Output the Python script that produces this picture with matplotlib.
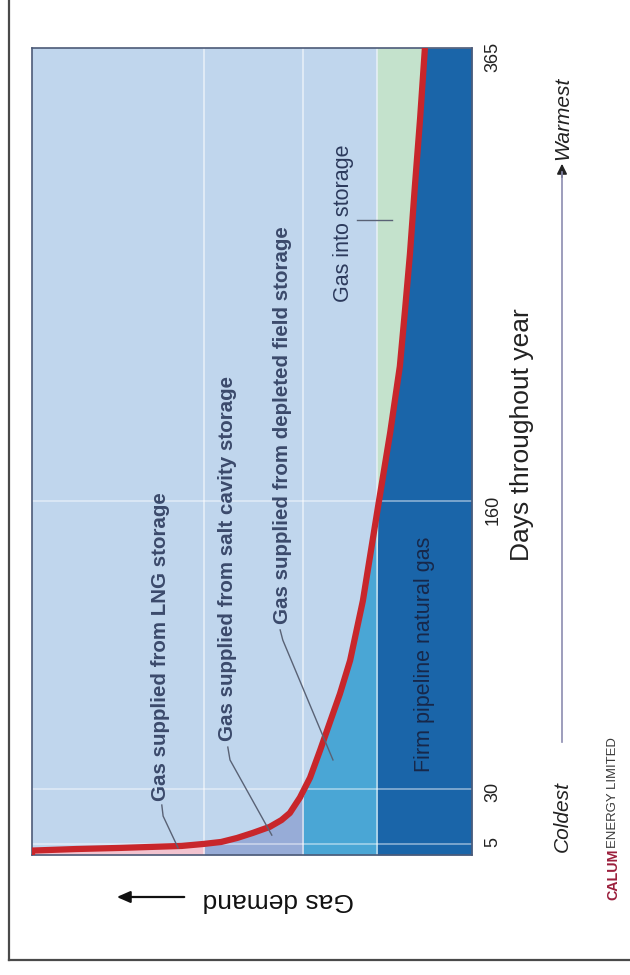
import numpy as np
import matplotlib
matplotlib.use("Agg")
import matplotlib.pyplot as plt
from matplotlib import font_manager
from matplotlib.lines import Line2D
from matplotlib.patches import FancyArrowPatch

# ---------------- data ----------------
# days of the year (sorted coldest -> warmest) and gas demand (arbitrary units, 100 = peak)
days = [0, 2.0, 2.7, 3.2, 4.1, 5.0, 5.9, 7.7, 10, 12.7, 15.8, 19, 26, 35, 47.5, 60, 73, 88,
        115, 157, 191, 221, 247, 272, 302, 333, 365]
demand = [100, 100, 90, 80, 66, 61, 57, 53.4, 49.8, 46, 43.3, 41.4, 39.1, 36.8, 34.5, 32.3, 30,
          27.7, 24.8, 21.4, 18.6, 16.4, 15.2, 14.1, 13.0, 11.8, 10.7]

# supply tiers (upper demand level of each source)
firm_level = 21.6       # firm pipeline natural gas
depleted_level = 38.4   # depleted field storage
salt_level = 60.9       # salt cavity storage (LNG above)

day_ticks = [5, 30, 160, 365]
day_tick_labels = ["5", "30", "160", "365"]

labels = {
    "lng": "Gas supplied from LNG storage",
    "salt": "Gas supplied from salt cavity storage",
    "depleted": "Gas supplied from depleted field storage",
    "into": "Gas into storage",
    "firm": "Firm pipeline natural gas",
}
# label anchors (demand, day) and leader lines (demand list, day list)
lng_anchor = (70.9, 24.5)
salt_anchor = (55.5, 51.5)
depl_anchor = (43.0, 104.5)
into_anchor = (29.3, 285.8)
firm_anchor = (10.7, 37.5)
lng_leader = ([70.5, 70.2, 66.8], [22.6, 17.6, 3.2])
salt_leader = ([55.5, 55.0, 45.5], [48.8, 43.0, 9.0])
depl_leader = ([43.6, 43.0, 31.6], [101.8, 97.2, 43.0])
into_leader = ([26.1, 18.2], [287, 287])

# ---------------- fonts ----------------
names = {f.name for f in font_manager.fontManager.ttflist}
BASE = "Liberation Sans" if "Liberation Sans" in names else "DejaVu Sans"
if "Liberation Sans Narrow" in names:
    NARROW, nscale = "Liberation Sans Narrow", 1.0
else:
    NARROW, nscale = BASE, 0.82
plt.rcParams["font.family"] = [BASE, "DejaVu Sans"]

# ---------------- colours ----------------
c_bg = "#c0d6ed"
c_firm = "#1a65a9"
c_depl = "#4aa6d5"
c_salt = "#97acd7"
c_lng = "#f2c3cf"
c_into = "#c4e2cc"
c_red = "#c8262b"
c_txt = "#3b4a6b"

W, H = 630, 975
fig = plt.figure(figsize=(W / 100, H / 100), dpi=100)
fig.patch.set_facecolor("white")

def fx(px):
    return px / W

def fy(py):
    return 1 - py / H

ax = fig.add_axes([fx(32), fy(855), fx(472) - fx(32), fy(48) - fy(855)])
ax.set_facecolor(c_bg)
ax.set_xlim(100, 0)
ax.set_ylim(0, 365)

d = np.array(days, dtype=float)
g = np.array(demand, dtype=float)

ax.fill_betweenx(d, 0, np.minimum(g, firm_level), color=c_firm, lw=0, zorder=1)
ax.fill_betweenx(d, firm_level, np.clip(g, firm_level, depleted_level), color=c_depl, lw=0, zorder=1)
ax.fill_betweenx(d, depleted_level, np.clip(g, depleted_level, salt_level), color=c_salt, lw=0, zorder=1)
ax.fill_betweenx(d, salt_level, np.maximum(g, salt_level), color=c_lng, lw=0, zorder=1)
ax.fill_betweenx(d, np.minimum(g, firm_level), firm_level, color=c_into, lw=0, zorder=1)

# grid
for lv in (firm_level, depleted_level, salt_level):
    ax.axvline(lv, color="white", lw=1.3, alpha=0.55, zorder=2)
for dt in day_ticks[:-1]:
    ax.axhline(dt, color="white", lw=1.3, alpha=0.45, zorder=2)

ax.plot(g, d, color=c_red, lw=4.5, solid_capstyle="butt", solid_joinstyle="round", zorder=4)

for s in ax.spines.values():
    s.set_color("#4d5b78")
    s.set_linewidth(1.2)

ax.set_xticks([])
ax.yaxis.tick_right()
ax.set_yticks(day_ticks)
ax.set_yticklabels(day_tick_labels)
ax.tick_params(axis="y", length=0, pad=9, labelsize=13, labelrotation=90, labelcolor="#222222")

# annotations inside the plot
bold_kw = dict(rotation=90, fontsize=18 * nscale, fontweight="bold", color=c_txt,
               family=[NARROW, BASE], ha="center", va="bottom", zorder=5)
ax.text(*lng_anchor, labels["lng"], **bold_kw)
ax.text(*salt_anchor, labels["salt"], **bold_kw)
ax.text(*depl_anchor, labels["depleted"], **bold_kw)
ax.text(*into_anchor, labels["into"], rotation=90, fontsize=15.5, color="#2c3a5c",
        ha="center", va="center", zorder=5)
ax.text(*firm_anchor, labels["firm"], rotation=90, fontsize=15.5, color="#17284a",
        ha="center", va="bottom", zorder=5)
for lx, ly in (lng_leader, salt_leader, depl_leader, into_leader):
    ax.plot(lx, ly, color="#596275", lw=1.0, zorder=5)

# axis title and arrows
fig.text(fx(522), fy(435), "Days throughout year", rotation=90, fontsize=19,
         ha="center", va="center", color="#222222")
fig.text(fx(562), fy(817), "Coldest", rotation=90, fontsize=15, style="italic",
         family=[NARROW, BASE], ha="center", va="center", color="#222222")
fig.text(fx(563), fy(160), "Warmest", rotation=90, fontsize=15, style="italic",
         family=[NARROW, BASE], ha="center", va="bottom", color="#222222")
fig.add_artist(Line2D([fx(562), fx(562)], [fy(742), fy(172)], color="#8c8cb0", lw=1.2))
fig.add_artist(FancyArrowPatch(
    (fx(562), fy(180)), (fx(562), fy(161)), transform=fig.transFigure,
    arrowstyle="-|>,head_length=6,head_width=3", color="#222222", lw=1.2))

fig.text(fx(278), fy(900), "Gas demand", rotation=180, fontsize=19,
         ha="center", va="center", color="#111111")
fig.add_artist(FancyArrowPatch(
    (fx(187), fy(897)), (fx(114), fy(897)), transform=fig.transFigure,
    arrowstyle="-|>,head_length=8,head_width=3.5", color="#111111", lw=1.6))

# logo
t1 = fig.text(fx(613), fy(900), "CALUM", rotation=90, fontsize=12.5 * nscale,
              family=[NARROW, BASE], fontweight="bold", color="#9b1f3c",
              ha="center", va="bottom")
fig.canvas.draw()
bb = t1.get_window_extent()
fig.text(fx(613), (bb.y1 + 1) / H, "ENERGY LIMITED", rotation=90, fontsize=11.5 * nscale,
         family=[NARROW, BASE], color="#3a3a3a", ha="center", va="bottom")

# outer frame
fig.add_artist(Line2D([fx(9), fx(9)], [fy(0), fy(960)], color="#4a4a4a", lw=1.6))
fig.add_artist(Line2D([fx(9), fx(630)], [fy(960), fy(960)], color="#4a4a4a", lw=1.6))

fig.savefig("out.png", dpi=100, facecolor="white")
